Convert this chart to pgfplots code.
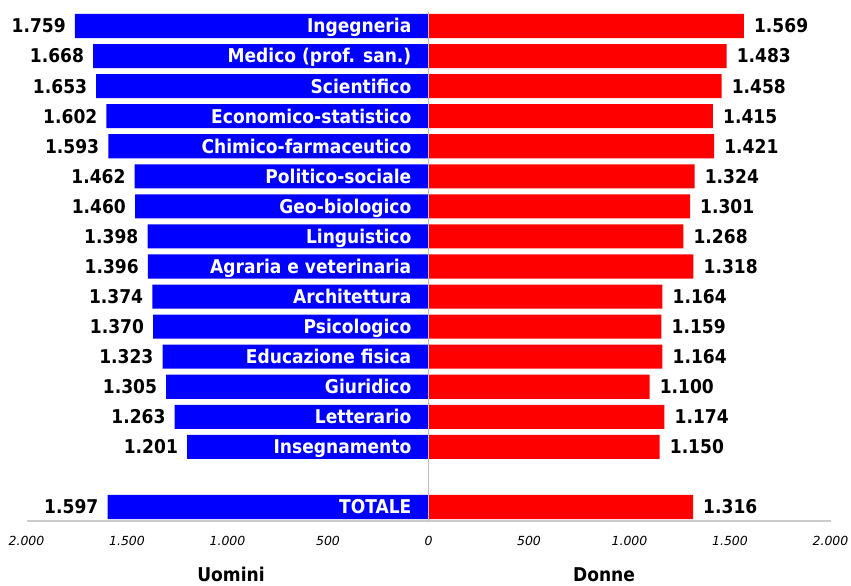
\documentclass[border=0pt]{standalone}
\usepackage{fontspec}
\setmainfont{DejaVu Sans Condensed}
\newfontfamily\tickfont{DejaVu Sans}
\usepackage{pgfplots}
\pgfplotsset{compat=1.18}
\usepackage{pgfplotstable}

\pgfplotstableread[col sep=comma]{
y,m,f,ml,fl,cat
0,1759,1569,1.759,1.569,Ingegneria
-1,1668,1483,1.668,1.483,Medico (prof. san.)
-2,1653,1458,1.653,1.458,Scientifico
-3,1602,1415,1.602,1.415,Economico-statistico
-4,1593,1421,1.593,1.421,Chimico-farmaceutico
-5,1462,1324,1.462,1.324,Politico-sociale
-6,1460,1301,1.460,1.301,Geo-biologico
-7,1398,1268,1.398,1.268,Linguistico
-8,1396,1318,1.396,1.318,Agraria e veterinaria
-9,1374,1164,1.374,1.164,Architettura
-10,1370,1159,1.370,1.159,Psicologico
-11,1323,1164,1.323,1.164,Educazione fisica
-12,1305,1100,1.305,1.100,Giuridico
-13,1263,1174,1.263,1.174,Letterario
-14,1201,1150,1.201,1.150,Insegnamento
-16,1597,1316,1.597,1.316,TOTALE
}\datatable

\tikzset{lab/.style={inner sep=0pt, text height=13.8pt, text depth=0pt,
     font=\bfseries\fontsize{19}{20}\selectfont}}

\begin{document}
\begin{tikzpicture}
\useasboundingbox (0,0) rectangle (851pt,586pt);
\begin{axis}[
  at={(26.5pt,65pt)}, anchor=south west,
  scale only axis, width=804pt, height=509pt,
  xmin=-2000, xmax=2000, ymin=-16.466, ymax=0.466,
  clip=false,
  axis y line=none, axis x line*=bottom,
  x axis line style={draw=black!20, line width=1.6pt, -},
  xtick={-2000,-1500,...,2000},
  xticklabels={2.000,1.500,1.000,500,0,500,1.000,1.500,2.000},
  major tick length=0pt,
  xticklabel style={font=\tickfont\itshape\fontsize{12.5}{14}\selectfont, yshift=-12pt},
  bar width=0.8, 
]
\addplot[xbar, bar shift=0pt, fill={rgb,255:red,0;green,0;blue,255}, draw=none,
  point meta=explicit symbolic, nodes near coords,
  every node near coord/.append style={lab, anchor=east, xshift=-9pt, text=black}]
  table[x expr=-\thisrow{m}, y=y, meta=ml] {\datatable};
\addplot[xbar, bar shift=0pt, fill={rgb,255:red,255;green,0;blue,0}, draw=none,
  point meta=explicit symbolic, nodes near coords,
  every node near coord/.append style={lab, anchor=west, xshift=10pt, text=black}]
  table[x=f, y=y, meta=fl] {\datatable};
\addplot[draw=none, mark=none,
  point meta=explicit symbolic, nodes near coords,
  every node near coord/.append style={lab, anchor=east, xshift=-17pt, text=white}]
  table[x expr=0, y=y, meta=cat] {\datatable};
\draw[black!25, line width=0.8pt] (axis cs:0,0.466) -- (axis cs:0,-16.466);
\end{axis}
\node[anchor=base, font=\bfseries\fontsize{19}{20}\selectfont] at (231pt,4pt) {Uomini};
\node[anchor=base, font=\bfseries\fontsize{19}{20}\selectfont] at (604pt,4pt) {Donne};
\end{tikzpicture}
\end{document}
